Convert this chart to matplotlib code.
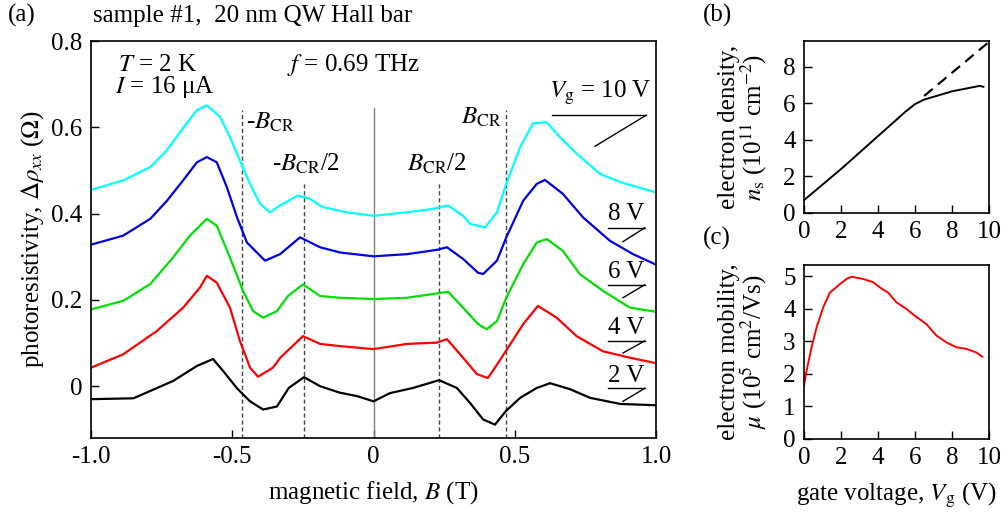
import matplotlib
matplotlib.use("Agg")
import matplotlib.pyplot as plt

plt.rcParams['font.family'] = ['Liberation Serif', 'DejaVu Serif']
plt.rcParams['mathtext.fontset'] = 'stix'
plt.rcParams['axes.unicode_minus'] = False
plt.rcParams['font.size'] = 18

# (a) photoresistivity vs B
b_2v = [-1.0, -0.85, -0.71, -0.625, -0.568, -0.532, -0.483, -0.437, -0.391, -0.342, -0.3, -0.246,
        -0.189, -0.119, -0.058, 0.0, 0.058, 0.14, 0.232, 0.295, 0.342, 0.388, 0.43, 0.468, 0.519,
        0.578, 0.625, 0.696, 0.767, 0.873, 0.996]
r_2v = [-0.030, -0.028, 0.012, 0.047, 0.063, 0.035, -0.005, -0.035, -0.054, -0.047, -0.004, 0.021,
        0.0, -0.015, -0.023, -0.035, -0.016, -0.004, 0.014, -0.004, -0.039, -0.077, -0.089, -0.058, -0.027,
        -0.004, 0.007, -0.007, -0.027, -0.041, -0.044]

b_4v = [-1.0, -0.886, -0.767, -0.674, -0.614, -0.59, -0.555, -0.508, -0.473, -0.437, -0.409, -0.356,
        -0.33, -0.25, -0.189, -0.119, 0.0, 0.118, 0.224, 0.26, 0.317, 0.366, 0.405, 0.437, 0.468,
        0.53, 0.582, 0.648, 0.719, 0.812, 0.908, 0.996]
r_4v = [0.043, 0.074, 0.128, 0.182, 0.229, 0.256, 0.240, 0.182, 0.105, 0.043, 0.022, 0.043,
        0.066, 0.116, 0.098, 0.093, 0.086, 0.098, 0.101, 0.109, 0.066, 0.028, 0.019, 0.050, 0.081,
        0.144, 0.186, 0.159, 0.116, 0.081, 0.066, 0.054]

b_6v = [-1.0, -0.886, -0.79, -0.71, -0.65, -0.59, -0.555, -0.508, -0.462, -0.426, -0.391, -0.342,
        -0.303, -0.25, -0.189, -0.119, 0.0, 0.118, 0.224, 0.264, 0.317, 0.37, 0.401, 0.437, 0.47,
        0.53, 0.578, 0.613, 0.67, 0.73, 0.812, 0.908, 0.996]
r_6v = [0.178, 0.198, 0.237, 0.298, 0.349, 0.388, 0.372, 0.298, 0.221, 0.174, 0.159, 0.174,
        0.209, 0.236, 0.209, 0.205, 0.202, 0.205, 0.215, 0.219, 0.182, 0.144, 0.132, 0.151, 0.205,
        0.283, 0.333, 0.341, 0.314, 0.260, 0.221, 0.182, 0.173]

b_8v = [-1.0, -0.886, -0.79, -0.731, -0.674, -0.625, -0.59, -0.555, -0.519, -0.483, -0.448, -0.384,
        -0.331, -0.26, -0.189, -0.119, 0.0, 0.118, 0.224, 0.26, 0.317, 0.37, 0.388, 0.437, 0.47,
        0.53, 0.578, 0.607, 0.67, 0.742, 0.837, 0.919, 0.996]
r_8v = [0.328, 0.349, 0.388, 0.430, 0.477, 0.519, 0.531, 0.519, 0.461, 0.391, 0.333, 0.291,
        0.306, 0.345, 0.322, 0.310, 0.301, 0.306, 0.316, 0.322, 0.295, 0.263, 0.260, 0.291, 0.345,
        0.430, 0.469, 0.478, 0.446, 0.391, 0.337, 0.306, 0.283]

b_10v = [-1.0, -0.886, -0.79, -0.731, -0.685, -0.625, -0.59, -0.543, -0.508, -0.473, -0.437, -0.402,
         -0.366, -0.331, -0.267, -0.225, -0.179, -0.094, 0.0, 0.118, 0.211, 0.264, 0.317, 0.342, 0.37,
         0.395, 0.437, 0.47, 0.519, 0.565, 0.613, 0.66, 0.719, 0.802, 0.873, 0.996]
r_10v = [0.455, 0.477, 0.508, 0.547, 0.589, 0.640, 0.651, 0.624, 0.577, 0.523, 0.469, 0.423,
         0.403, 0.419, 0.442, 0.434, 0.415, 0.403, 0.395, 0.403, 0.411, 0.419, 0.395, 0.376, 0.372,
         0.368, 0.403, 0.469, 0.554, 0.609, 0.612, 0.577, 0.539, 0.492, 0.473, 0.450]

curves = [(b_2v, r_2v, 'black'), (b_4v, r_4v, 'red'), (b_6v, r_6v, '#00e000'),
          (b_8v, r_8v, '#0000e0'), (b_10v, r_10v, 'cyan')]

# (b) density vs gate voltage
vg_n = [0.0, 1.0, 2.0, 3.0, 4.0, 5.0, 5.5, 6.0, 6.5, 7.0, 7.5, 8.0, 8.5, 9.0, 9.5, 9.7]
ns = [0.70, 1.55, 2.40, 3.30, 4.20, 5.10, 5.55, 5.95, 6.20, 6.35, 6.50, 6.65, 6.75, 6.85, 6.95, 6.90]
vg_fit = [6.5, 10.0]
ns_fit = [6.40, 9.35]

# (c) mobility vs gate voltage
vg_mu = [0.0, 0.14, 0.41, 0.68, 1.04, 1.4, 1.94, 2.3, 2.57, 3.2, 3.74, 4.1, 4.55, 5.0, 5.54, 5.99,
         6.62, 7.16, 7.7, 8.24, 8.78, 9.32, 9.64]
mu = [1.64, 2.10, 2.82, 3.43, 4.05, 4.50, 4.76, 4.92, 4.99, 4.92, 4.82, 4.66, 4.50, 4.20, 4.00, 3.79,
      3.53, 3.18, 2.97, 2.82, 2.77, 2.66, 2.53]

fig = plt.figure(figsize=(10.08, 5.21), dpi=100)
ax = fig.add_axes([0.0903, 0.1593, 0.5605, 0.762])
axb = fig.add_axes([0.7976, 0.5912, 0.1835, 0.330])
axc = fig.add_axes([0.7976, 0.1574, 0.1835, 0.334])

for a in (ax, axb, axc):
    a.tick_params(direction='in', length=6, width=1, pad=6, top=False, right=False)
    for s in a.spines.values():
        s.set_linewidth(1.2)

# marker lines
ax.plot([0, 0], [-0.12, 0.644], color='gray', lw=1)
for bx, top in [(-0.467, 0.64), (-0.246, 0.47), (0.233, 0.47), (0.468, 0.64)]:
    ax.plot([bx, bx], [-0.12, top], color='#444444', lw=1, ls=(0, (3, 2)))

for bb, rr, c in curves:
    ax.plot(bb, rr, color=c, lw=1.6)

ax.set_xlim(-1, 1)
ax.set_ylim(-0.12, 0.8)
ax.set_xticks([-1, -0.5, 0, 0.5, 1])
ax.set_xticklabels(['-1.0', '-0.5', '0', '0.5', '1.0'])
ax.set_yticks([0, 0.2, 0.4, 0.6, 0.8])
ax.set_yticklabels(['0', '0.2', '0.4', '0.6', '0.8'])
ax.set_xlabel('magnetic field, $\\mathit{B}$ (T)', labelpad=8)
ax.set_ylabel('photoresistivity, $\\Delta\\rho_{xx}$ ($\\Omega$)', labelpad=4)

ax.text(-0.904, 0.744, '$T$ = 2 K', va='center')
ax.text(-0.915, 0.693, '$I$ = 16 \u03bcA', va='center')
ax.text(-0.306, 0.744, '$f$ = 0.69 THz', va='center')
ax.text(-0.45, 0.612, '-$B_{\\rm CR}$', va='center')
ax.text(-0.358, 0.516, '-$B_{\\rm CR}$/2', va='center')
ax.text(0.12, 0.516, '$B_{\\rm CR}$/2', va='center')
ax.text(0.31, 0.623, '$B_{\\rm CR}$', va='center')
ax.text(0.622, 0.679, '$V_{\\rm g}$ = 10 V', va='center')
ax.plot([0.631, 0.965], [0.628, 0.628], color='black', lw=1)
ax.plot([0.965, 0.784], [0.628, 0.556], color='black', lw=1)

for lab, ty, uy, dy in [('8 V', 0.400, 0.367, 0.335), ('6 V', 0.265, 0.235, 0.205),
                        ('4 V', 0.135, 0.105, 0.077), ('2 V', 0.023, -0.005, -0.035)]:
    ax.text(0.83, ty, lab, va='center')
    ax.plot([0.83, 0.96], [uy, uy], color='black', lw=1)
    ax.plot([0.96, 0.883], [uy, dy], color='black', lw=1)

fig.text(0.008, 0.97, '(a)', va='center')
fig.text(0.092, 0.97, 'sample #1,  20 nm QW Hall bar', va='center')
fig.text(0.697, 0.97, '(b)', va='center')
fig.text(0.697, 0.543, '(c)', va='center')

# (b)
axb.plot(vg_n, ns, color='black', lw=1.4)
axb.plot(vg_fit, ns_fit, color='black', lw=1.6, ls=(0, (5, 3)))
axb.set_xlim(0, 10)
axb.set_ylim(0, 9.4)
axb.set_xticks([0, 2, 4, 6, 8, 10])
axb.set_yticks([0, 2, 4, 6, 8])
axb.set_ylabel('electron density,\n$n_{\\rm s}$ (10$^{11}$ cm$^{-2}$)', linespacing=0.95, labelpad=10)

# (c)
axc.plot(vg_mu, mu, color='red', lw=1.4)
axc.set_xlim(0, 10)
axc.set_ylim(0, 5.35)
axc.set_xticks([0, 2, 4, 6, 8, 10])
axc.set_yticks([0, 1, 2, 3, 4, 5])
axc.set_ylabel('electron mobility,\n$\\mu$ (10$^5$ cm$^2$/Vs)', linespacing=0.95, labelpad=10)
axc.set_xlabel('gate voltage, $V_{\\rm g}$ (V)', labelpad=8)

fig.savefig('out.png', dpi=100)
